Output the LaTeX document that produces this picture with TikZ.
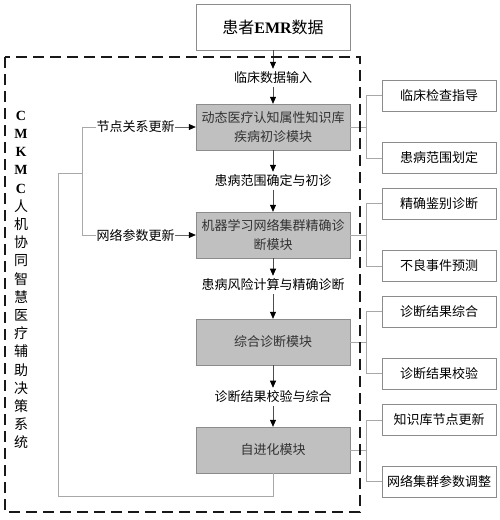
\documentclass[tikz,border=0pt]{standalone}
\usepackage{fontspec}
\newfontfamily\cjk{Noto Sans CJK SC}
\newfontfamily\serifb{Liberation Serif}
\usetikzlibrary{arrows.meta, positioning}
\definecolor{boxgray}{HTML}{C0C0C0}
\definecolor{edgegray}{HTML}{8C8C8C}
\definecolor{linkgray}{HTML}{A8A8A8}
\definecolor{textgray}{HTML}{333333}

\begin{document}
\begin{tikzpicture}[
x=1pt, y=-1pt,
texts/.style = {font=\cjk\fontsize{13}{19}\selectfont, text=black},
module/.style = {texts, text=textgray, draw=edgegray, fill=boxgray, minimum width=154pt, minimum height=46pt, align=center, inner sep=2pt},
result/.style = {texts, draw=edgegray, fill=white, minimum width=114pt, minimum height=31pt, inner sep=2pt},
flowlabel/.style = {texts, inner sep=3pt},
link/.style = {draw=linkgray, line width=0.6pt},
arr/.style = {draw=black!70, line width=0.6pt, -{Triangle[length=7pt,width=6pt,color=black]}},
frame/.style = {draw=black!90, line width=2.6pt, dash pattern=on 11pt off 6pt}
]
\useasboundingbox (0,0) rectangle (500,520);

\node[texts, font=\cjk\fontsize{16}{19}\selectfont, draw=edgegray, minimum width=154pt, minimum height=46pt] (emr) at (273,27) {患者{\serifb\bfseries EMR}数据};

\node[module] (m1) at (273,127) {动态医疗认知属性知识库\\疾病初诊模块};
\node[module] (m2) at (273,235) {机器学习网络集群精确诊\\断模块};
\node[module] (m3) at (273,342) {综合诊断模块};
\node[module] (m4) at (273,450) {自进化模块};

\node[flowlabel] (l1) at (273,78) {临床数据输入};
\node[flowlabel] (l2) at (273,181) {患病范围确定与初诊};
\node[flowlabel] (l3) at (273,285) {患病风险计算与精确诊断};
\node[flowlabel] (l4) at (273,397) {诊断结果校验与综合};

\node[result] (r1) at (439,95.5) {临床检查指导};
\node[result] (r2) at (439,158) {患病范围划定};
\node[result] (r3) at (439,203.5) {精确鉴别诊断};
\node[result] (r4) at (439,266) {不良事件预测};
\node[result] (r5) at (439,311.5) {诊断结果综合};
\node[result] (r6) at (439,373.5) {诊断结果校验};
\node[result] (r7) at (439,420) {知识库节点更新};
\node[result] (r8) at (439,481.5) {网络集群参数调整};

\node[texts, inner sep=0pt, left=21pt of m1] (u1) {节点关系更新};
\node[texts, inner sep=0pt, left=21pt of m2] (u2) {网络参数更新};

\node[texts, font=\cjk\fontsize{14}{18.2}\selectfont, align=center, inner sep=0pt] (title) at (21,280)
  {{\serifb\bfseries C}\\{\serifb\bfseries M}\\{\serifb\bfseries K}\\{\serifb\bfseries M}\\{\serifb\bfseries C}\\人\\机\\协\\同\\智\\慧\\医\\疗\\辅\\助\\决\\策\\系\\统};

% main flow
\draw[arr] (emr) -- (l1);
\draw[arr] (l1) -- (m1);
\draw[arr] (m1) -- (l2);
\draw[arr] (l2) -- (m2);
\draw[arr] (m2) -- (l3);
\draw[arr] (l3) -- (m3);
\draw[arr] (m3) -- (l4);
\draw[arr] (l4) -- (m4);

% outputs
\foreach \m/\a/\b in {m1/r1/r2, m2/r3/r4, m3/r5/r6, m4/r7/r8} {
  \draw[link] (\m.east) -- ++(16,0);
  \draw[link] (\a.west) -- ++(-16,0) |- (\b.west);
}

% feedback
\coordinate (fbturn) at (58,173);
\coordinate (fbjoin) at (82,173);
\draw[link] (m4.south) -- ++(0,23) -| (fbturn) -- (fbjoin);
\draw[link] (u1.west) -- (u1.west -| fbjoin) -- (u2.west -| fbjoin) -- (u2.west);
\draw[arr, draw=linkgray!60!black] (u1) -- (m1);
\draw[arr, draw=linkgray!60!black] (u2) -- (m2);

\draw[frame] (5,57) rectangle (360,512);
\end{tikzpicture}
\end{document}
